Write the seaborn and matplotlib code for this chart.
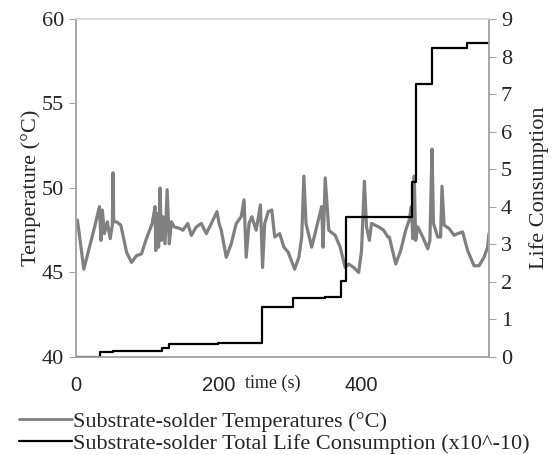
import numpy as np
import pandas as pd
import matplotlib
matplotlib.use("Agg")
import matplotlib.pyplot as plt
from matplotlib.lines import Line2D
import seaborn as sns

# ==========================================
# DATA
# ==========================================
temp_time = [0, 2, 11, 25, 33, 35, 37, 40, 44, 48, 51, 52, 53, 57, 63, 71, 78, 85,
             92, 98, 107, 111, 112, 114, 116, 118, 120, 122, 125, 128, 131, 134, 138,
             146, 150, 157, 162, 169, 176, 183, 190, 198, 201, 204, 211, 218, 225,
             232, 236, 239, 243, 247, 253, 259, 262, 265, 270, 275, 279, 286, 292,
             298, 307, 313, 317, 320, 323, 331, 338, 345, 347, 350, 355, 364, 371,
             378, 383, 390, 397, 401, 405, 408, 412, 415, 425, 432, 438, 440, 449,
             456, 463, 468, 471, 473, 475, 477, 480, 487, 494, 497, 500, 502, 508,
             512, 514, 517, 524, 531, 536, 543, 550, 559, 566, 573, 578, 580]
temp_vals = [48.0, 48.1, 45.2, 47.5, 48.9, 46.9, 48.7, 47.3, 48.0, 47.0, 47.8, 50.9,
             48.0, 48.0, 47.8, 46.2, 45.6, 46.0, 46.1, 46.9, 47.9, 48.9, 46.3, 48.5,
             46.5, 50.0, 46.9, 48.3, 46.7, 49.9, 46.7, 48.0, 47.7, 47.6, 47.5, 47.9,
             47.2, 47.7, 47.9, 47.3, 47.9, 48.6, 47.9, 47.5, 45.9, 46.7, 47.9, 48.3,
             49.3, 45.9, 47.9, 48.3, 47.5, 49.0, 45.3, 47.9, 48.6, 48.7, 47.1, 47.3,
             46.5, 46.2, 45.2, 45.9, 47.1, 50.7, 47.9, 46.5, 47.7, 48.9, 46.5, 50.6,
             47.5, 47.2, 46.5, 45.3, 45.5, 45.3, 45.0, 46.3, 50.4, 47.7, 46.9, 47.9,
             47.7, 47.5, 47.1, 47.1, 45.5, 46.3, 47.5, 48.1, 48.9, 47.0, 50.7, 46.9,
             47.7, 47.1, 46.4, 46.9, 52.3, 47.9, 47.1, 47.1, 50.1, 47.8, 47.6, 47.2,
             47.3, 47.4, 46.3, 45.4, 45.4, 45.9, 46.5, 47.3]

life_time = [0, 34, 52, 121, 131, 200, 261, 305, 349, 372, 379, 472, 477, 500, 549, 580]
life_vals = [0.0, 0.12, 0.17, 0.24, 0.35, 0.37, 1.32, 1.56, 1.61, 2.02, 3.73, 4.66,
             7.26, 8.22, 8.37, 8.37]

temp_df = pd.DataFrame({"time": temp_time, "temp": temp_vals})
life_df = pd.DataFrame({"time": life_time, "life": life_vals})

# ==========================================
# STYLE
# ==========================================
sns.set_style("white")
plt.rcParams["font.family"] = ["Liberation Serif", "DejaVu Serif"]
FS = 16
GREY = "#808080"
AXC = "#a6a6a6"

fig = plt.figure(figsize=(5.52, 4.55), dpi=100)
ax = fig.add_axes([76 / 552, 98 / 455, 413 / 552, 338 / 455])
ax2 = ax.twinx()

sns.lineplot(data=temp_df, x="time", y="temp", ax=ax, color=GREY, lw=2.3, legend=False)
sns.lineplot(data=life_df, x="time", y="life", ax=ax2, color="black", lw=1.6,
             drawstyle="steps-post", legend=False)

ax.set_xlim(0, 580)
ax.set_ylim(40, 60)
ax.set_yticks([40, 45, 50, 55, 60])
ax.set_xticks([0, 200, 400])
ax2.set_ylim(0, 9)
ax2.set_yticks(range(0, 10))

for a in (ax, ax2):
    for s in a.spines.values():
        s.set_color(AXC)
        s.set_linewidth(1.2)
    a.spines["top"].set_color("#d9d9d9")
ax.tick_params(axis="y", direction="out", length=5, color=AXC, labelsize=FS)
ax.tick_params(axis="x", direction="out", length=6, color=AXC, labelsize=14.5, pad=8)
ax2.tick_params(axis="y", direction="out", length=5, color=AXC, labelsize=FS)
for lab in ax.get_xticklabels():
    lab.set_fontfamily("Liberation Sans")

ax.set_xlabel("")
ax.set_ylabel("Temperature (°C)", fontsize=FS, labelpad=1)
ax2.set_ylabel("Life Consumption", fontsize=FS, labelpad=12)
ax.text((273 - 76) / 413, -0.078, "time (s)", transform=ax.transAxes, ha="center",
        va="center", fontsize=13)

handles = [Line2D([], [], color=GREY, lw=2),
           Line2D([], [], color="black", lw=1.6)]
labels = ["Substrate-solder Temperatures (°C)",
          "Substrate-solder Total Life Consumption (x10^-10)"]
fig.legend(handles, labels, loc="upper left", bbox_to_anchor=(19 / 552, 1 - 411 / 455),
           frameon=False, fontsize=FS, handlelength=2.4, handletextpad=0.05,
           labelspacing=0.08, borderpad=0.0, borderaxespad=0.0)

fig.savefig("out.png", dpi=100)
